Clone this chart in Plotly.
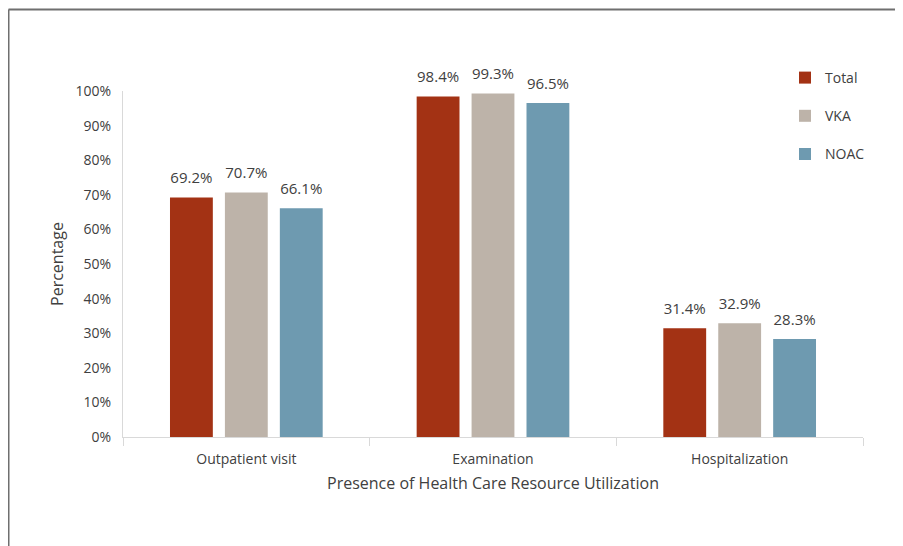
import plotly.graph_objects as go

categories = ["Outpatient visit", "Examination", "Hospitalization"]
series_names = ["Total", "VKA", "NOAC"]
total_vals = [69.2, 98.4, 31.4]
vka_vals = [70.7, 99.3, 32.9]
noac_vals = [66.1, 96.5, 28.3]
colors = ["#A33214", "#BDB3A9", "#6E9AB0"]
y_ticks = [0, 10, 20, 30, 40, 50, 60, 70, 80, 90, 100]
y_tick_labels = [f"{v}%" for v in y_ticks]

FONT = "Open Sans, Noto Sans, sans-serif"
TXT = "#404040"

fig = go.Figure()
for name, vals, col in zip(series_names, [total_vals, vka_vals, noac_vals], colors):
    fig.add_trace(go.Bar(
        name=name, x=categories, y=vals, marker_color=col, marker_line_width=0,
        offsetgroup=name, legendgroup=name,
    ))
for name, vals in zip(series_names, [total_vals, vka_vals, noac_vals]):
    fig.add_trace(go.Scatter(
        x=categories, y=vals, mode="markers+text", offsetgroup=name,
        marker=dict(size=15, opacity=0), text=[f"{v:.1f}%" for v in vals],
        textposition="top center", textfont=dict(size=15, color=TXT, family=FONT),
        cliponaxis=False, showlegend=False, hoverinfo="skip",
    ))

# page body has an 8px default margin; positions below are in figure coords
OFF = 8
W, H = 903 - OFF, 546 - OFF
L, R, T, B = 123 - OFF, 40, 91 - OFF, 109
pw, ph = W - L - R, H - T - B

def px_x(px):
    return (px - OFF - L) / pw

def px_y(py):
    return (H - B - (py - OFF)) / ph

fig.update_layout(
    width=W, height=H,
    margin=dict(l=L, r=R, t=T, b=B),
    paper_bgcolor="white", plot_bgcolor="white",
    barmode="group", bargap=0.332, bargroupgap=0.22,
    scattermode="group", scattergap=0.332,
    font=dict(family=FONT, size=14, color=TXT),
    showlegend=True,
    legend=dict(x=px_x(785), y=px_y(62), xanchor="left", yanchor="top",
                font=dict(size=14, color=TXT, family=FONT),
                tracegroupgap=17, itemwidth=30, bgcolor="rgba(0,0,0,0)"),
    xaxis=dict(showline=True, linecolor="#d9d9d9", linewidth=1,
               ticks="outside", tickson="boundaries", ticklen=8, tickcolor="#d9d9d9",
               ticklabelstandoff=9,
               tickfont=dict(size=14, color=TXT, family=FONT),
               title=dict(text="Presence of Health Care Resource Utilization",
                          font=dict(size=16, color=TXT, family=FONT), standoff=11)),
    yaxis=dict(range=[0, 100], tickvals=y_ticks, ticktext=y_tick_labels,
               showgrid=False, zeroline=False, showline=True, linecolor="#d9d9d9",
               linewidth=1, ticks="", ticklabelstandoff=8,
               tickfont=dict(size=14, color=TXT, family=FONT),
               title=dict(text="Percentage", font=dict(size=16, color=TXT, family=FONT),
                          standoff=8)),
    shapes=[
        dict(type="line", xref="paper", yref="paper", x0=px_x(8.5), x1=px_x(910),
             y0=px_y(9.5), y1=px_y(9.5), line=dict(color="#6f6f6f", width=2)),
        dict(type="line", xref="paper", yref="paper", x0=px_x(8.5), x1=px_x(8.5),
             y0=px_y(9.5), y1=px_y(560), line=dict(color="#6f6f6f", width=2)),
    ],
)

fig.write_html("out.html")
